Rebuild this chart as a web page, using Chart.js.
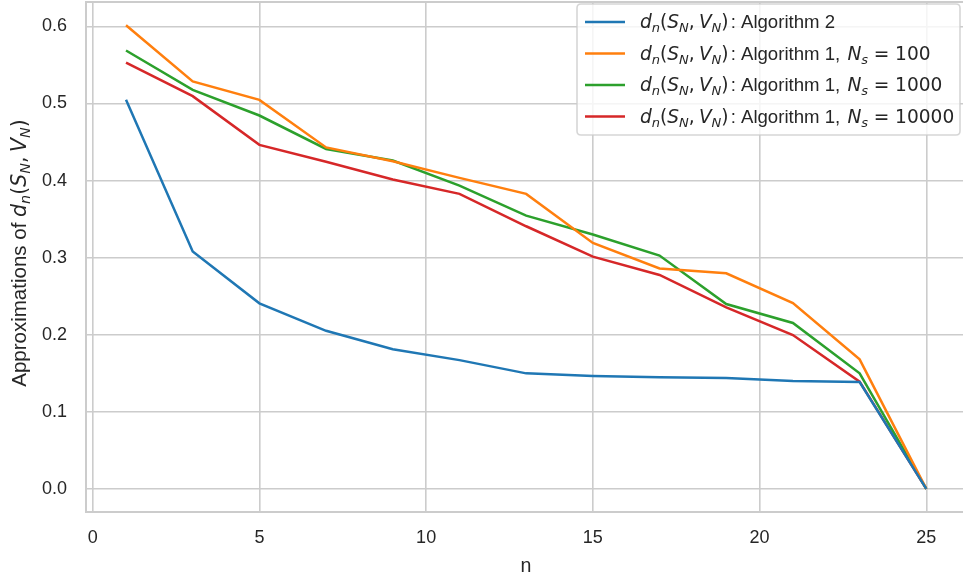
<!DOCTYPE html>
<html>
<head>
<meta charset="utf-8">
<script src="https://cdn.jsdelivr.net/npm/chart.js@4.4.1/dist/chart.umd.min.js"></script>
<style>
  html, body { margin: 0; padding: 0; background: #ffffff; }
  #wrap { width: 963px; height: 580px; position: relative; }
</style>
</head>
<body>
<div id="wrap"><canvas id="chart" width="963" height="580"></canvas></div>
<script>
// Number of basis functions n
const nValues = [1, 3, 5, 7, 9, 11, 13, 15, 17, 19, 21, 23, 25];

// Approximations of d_n(S_N, V_N)
const algorithm2   = [0.505, 0.308, 0.2407, 0.205, 0.181, 0.167, 0.1498, 0.1463, 0.1446, 0.1437, 0.1398, 0.1385, 0.0];
const alg1Ns100    = [0.6015, 0.5286, 0.5047, 0.443, 0.425, 0.4035, 0.3827, 0.319, 0.286, 0.2797, 0.241, 0.168, 0.0];
const alg1Ns1000   = [0.5688, 0.5177, 0.4844, 0.441, 0.426, 0.3935, 0.3545, 0.330, 0.3026, 0.2398, 0.2152, 0.1498, 0.0];
const alg1Ns10000  = [0.553, 0.5095, 0.4463, 0.4245, 0.4013, 0.3827, 0.3407, 0.3013, 0.2775, 0.2355, 0.1996, 0.139, 0.0];

// Tick labels
const xTicks = [0, 5, 10, 15, 20, 25];
const yTicks = [0.0, 0.1, 0.2, 0.3, 0.4, 0.5, 0.6];

const colors = ['#1f77b4', '#ff7f0e', '#2ca02c', '#d62728'];
const TEXT = '#262626';
const GRID = '#cccccc';
const SANS = '"Liberation Sans", Arial, sans-serif';
const MATH = '"DejaVu Sans", sans-serif';

// Rich-text pieces for the mathematical labels
const dnLabel = [
  { t: 'd', f: 'it' }, { t: 'n', f: 'it', sub: true },
  { t: '(', f: 'rm' }, { t: 'S', f: 'it' }, { t: 'N', f: 'it', sub: true },
  { t: ',', f: 'rm' }, { gap: 4 },
  { t: 'V', f: 'it' }, { t: 'N', f: 'it', sub: true }, { t: ')', f: 'rm' }
];
const nsPart = (v) => [
  { t: 'N', f: 'it' }, { t: 's', f: 'it', sub: true },
  { gap: 5.5 }, { t: '=', f: 'rm' }, { gap: 5.5 }, { t: v, f: 'rm' }
];
const legendLabels = [
  [...dnLabel, { gap: 2 }, { t: ': Algorithm 2', f: 'sans' }],
  [...dnLabel, { gap: 2 }, { t: ': Algorithm 1, ', f: 'sans' }, { gap: 2 }, ...nsPart('100')],
  [...dnLabel, { gap: 2 }, { t: ': Algorithm 1, ', f: 'sans' }, { gap: 2 }, ...nsPart('1000')],
  [...dnLabel, { gap: 2 }, { t: ': Algorithm 1, ', f: 'sans' }, { gap: 2 }, ...nsPart('10000')]
];
const yTitle = [{ t: 'Approximations of ', f: 'sans' }, ...dnLabel];

function segFont(seg, size) {
  const sz = seg.sub ? size * 0.7 : size;
  const fam = seg.f === 'sans' ? SANS : MATH;
  const style = seg.f === 'it' ? 'italic ' : '';
  return style + sz.toFixed(2) + 'px ' + fam;
}
function richWidth(ctx, segs, size) {
  let w = 0;
  for (const s of segs) {
    if (s.gap) { w += s.gap * size / 18; continue; }
    ctx.font = segFont(s, size);
    w += ctx.measureText(s.t).width;
  }
  return w;
}
function drawRich(ctx, segs, x, y, size) {
  ctx.textBaseline = 'alphabetic';
  ctx.textAlign = 'left';
  for (const s of segs) {
    if (s.gap) { x += s.gap * size / 18; continue; }
    ctx.font = segFont(s, size);
    ctx.fillText(s.t, x, y + (s.sub ? size * 0.2 : 0));
    x += ctx.measureText(s.t).width;
  }
}

// Axes frame, axis titles and legend
const decorations = {
  id: 'decorations',
  beforeDatasetsDraw(chart) {
    const { ctx, chartArea: a } = chart;
    ctx.save();
    ctx.strokeStyle = GRID;
    ctx.lineWidth = 2;
    ctx.beginPath();
    ctx.moveTo(a.right + 2, a.top);
    ctx.lineTo(a.left, a.top);
    ctx.lineTo(a.left, a.bottom);
    ctx.lineTo(a.right + 2, a.bottom);
    ctx.stroke();
    ctx.restore();
  },
  afterDraw(chart) {
    const { ctx } = chart;
    ctx.save();
    ctx.fillStyle = TEXT;

    // x-axis title
    ctx.font = '19.6px ' + SANS;
    ctx.textAlign = 'center';
    ctx.textBaseline = 'alphabetic';
    ctx.fillText('n', 526, 572);

    // y-axis title (rotated)
    const tsz = 20.5;
    const tw = richWidth(ctx, yTitle, tsz);
    ctx.translate(26, 253);
    ctx.rotate(-Math.PI / 2);
    drawRich(ctx, yTitle, -tw / 2, 0, tsz);
    ctx.setTransform(1, 0, 0, 1, 0, 0);

    // legend frame
    const L = 577, T = 4, R = 960, B = 135, r = 4;
    ctx.beginPath();
    ctx.moveTo(L + r, T);
    ctx.lineTo(R - r, T); ctx.quadraticCurveTo(R, T, R, T + r);
    ctx.lineTo(R, B - r); ctx.quadraticCurveTo(R, B, R - r, B);
    ctx.lineTo(L + r, B); ctx.quadraticCurveTo(L, B, L, B - r);
    ctx.lineTo(L, T + r); ctx.quadraticCurveTo(L, T, L + r, T);
    ctx.closePath();
    ctx.fillStyle = 'rgba(255,255,255,0.8)';
    ctx.fill();
    ctx.strokeStyle = 'rgba(204,204,204,0.8)';
    ctx.lineWidth = 1.6;
    ctx.stroke();

    // legend entries
    const rowY = [22, 53.5, 85, 116.5];
    legendLabels.forEach((segs, i) => {
      ctx.strokeStyle = colors[i];
      ctx.lineWidth = 2.5;
      ctx.beginPath();
      ctx.moveTo(585, rowY[i]);
      ctx.lineTo(625, rowY[i]);
      ctx.stroke();
      ctx.fillStyle = TEXT;
      drawRich(ctx, segs, 640, rowY[i] + 6.3, 18.6);
    });
    ctx.restore();
  }
};

const series = [
  ['Algorithm 2', algorithm2],
  ['Algorithm 1, Ns = 100', alg1Ns100],
  ['Algorithm 1, Ns = 1000', alg1Ns1000],
  ['Algorithm 1, Ns = 10000', alg1Ns10000]
];

// fixed axis sizes, no extra edge padding from tick labels
function fixScale(s, size) {
  if (s.isHorizontal()) s.height = size; else s.width = size;
  s.paddingTop = 0; s.paddingBottom = 0; s.paddingLeft = 0; s.paddingRight = 0;
}

new Chart(document.getElementById('chart'), {
  type: 'line',
  data: {
    datasets: series.map(([label, vals], i) => ({
      label,
      data: nValues.map((n, k) => ({ x: n, y: vals[k] })),
      borderColor: colors[i],
      backgroundColor: colors[i],
      borderWidth: 2.5,
      pointRadius: 0,
      tension: 0,
      fill: false
    }))
  },
  options: {
    responsive: false,
    animation: false,
    layout: { padding: { top: 2, right: 0, bottom: 0, left: 0 } },
    plugins: { legend: { display: false }, tooltip: { enabled: false } },
    scales: {
      x: {
        type: 'linear',
        min: -0.2,
        max: 26.1,
        afterBuildTicks: (s) => { s.ticks = xTicks.map(v => ({ value: v })); },
        afterFit: (s) => fixScale(s, 68),
        grid: { color: GRID, lineWidth: 1.6, drawTicks: false },
        border: { display: false },
        ticks: {
          padding: 15,
          color: TEXT,
          font: { family: SANS, size: 18 },
          maxRotation: 0,
          callback: (v) => String(v)
        }
      },
      y: {
        type: 'linear',
        min: -0.0301,
        max: 0.6317,
        afterBuildTicks: (s) => { s.ticks = yTicks.map(v => ({ value: v })); },
        afterFit: (s) => fixScale(s, 86),
        grid: { color: GRID, lineWidth: 1.6, drawTicks: false },
        border: { display: false },
        ticks: {
          padding: 19,
          color: TEXT,
          font: { family: SANS, size: 18 },
          callback: (v) => v.toFixed(1)
        }
      }
    }
  },
  plugins: [decorations]
});
</script>
</body>
</html>
